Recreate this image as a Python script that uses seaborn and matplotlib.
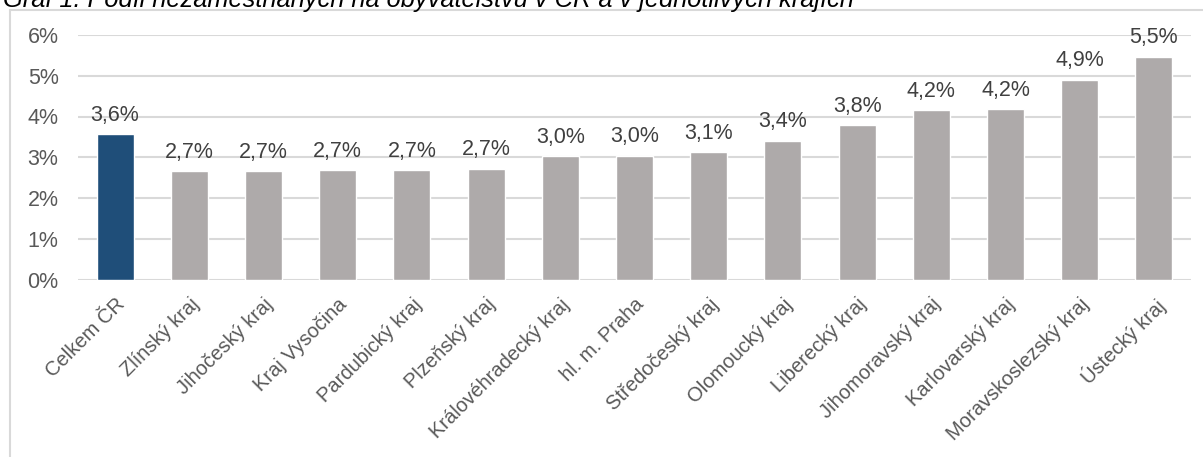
import matplotlib
matplotlib.use("Agg")
import matplotlib.pyplot as plt
import seaborn as sns
import pandas as pd
from matplotlib.lines import Line2D

# data (podil nezamestnanych, %)
kraje = ["Celkem ČR", "Zlínský kraj", "Jihočeský kraj", "Kraj Vysočina", "Pardubický kraj",
         "Plzeňský kraj", "Královéhradecký kraj", "hl. m. Praha", "Středočeský kraj",
         "Olomoucký kraj", "Liberecký kraj", "Jihomoravský kraj", "Karlovarský kraj",
         "Moravskoslezský kraj", "Ústecký kraj"]
podil = [3.57, 2.66, 2.66, 2.68, 2.69, 2.72, 3.03, 3.04, 3.13, 3.41, 3.79, 4.15, 4.18, 4.90, 5.47]
yticks = [0, 1, 2, 3, 4, 5, 6]

df = pd.DataFrame({"kraj": kraje, "podil": podil})
barvy = ["#1F4E79"] + ["#AEAAAA"] * (len(kraje) - 1)

sns.set_theme(style="white")
plt.rcParams["font.family"] = ["Liberation Sans", "DejaVu Sans"]
txt = "#595959"

fig = plt.figure(figsize=(12.03, 4.57), dpi=100)
ax = fig.add_axes([78 / 1203, 177.5 / 457, 1113 / 1203, 244.5 / 457])

sns.barplot(data=df, x="kraj", y="podil", hue="kraj", palette=barvy,
            width=0.5, legend=False, ax=ax, saturation=1, zorder=3)

# popisky hodnot s desetinnou carkou
labels = [f"{v:.1f}".replace(".", ",") + "%" for v in podil]
for cont, lab in zip(ax.containers, labels):
    ax.bar_label(cont, labels=[lab], padding=6, fontsize=15.5, color="#404040")

ax.set_ylim(0, 6)
ax.set_xlim(-0.5, len(kraje) - 0.5)
ax.set_yticks(yticks)
ax.set_yticklabels([f"{t}%" for t in yticks], fontsize=15.5, color=txt)
ax.set_xticks(range(len(kraje)))
ax.set_xticklabels(kraje, rotation=45, ha="right", rotation_mode="anchor",
                   fontsize=14.5, color=txt)
ax.tick_params(axis="both", length=0)
ax.tick_params(axis="y", pad=14)
ax.tick_params(axis="x", pad=11)
ax.set_xlabel("")
ax.set_ylabel("")
ax.grid(axis="y", color="#D9D9D9", linewidth=1.5, zorder=0)
for s in ax.spines.values():
    s.set_visible(False)

# ramecek grafu
W, H = 1203, 457
fig.add_artist(Line2D([10 / W, 10 / W], [0, 1 - 10 / H], color="#D9D9D9", lw=1.5))
fig.add_artist(Line2D([10 / W, 1], [1 - 10 / H, 1 - 10 / H], color="#D9D9D9", lw=1.5))

# nadpis (v originale oriznuty nahore)
fig.text(3 / W, 1 - 7 / H, "Graf 1: Podíl nezaměstnaných na obyvatelstvu v ČR a v jednotlivých krajích",
         fontsize=18.3, style="italic", color="#000000", va="baseline", ha="left")

fig.savefig("out.png", dpi=100)
